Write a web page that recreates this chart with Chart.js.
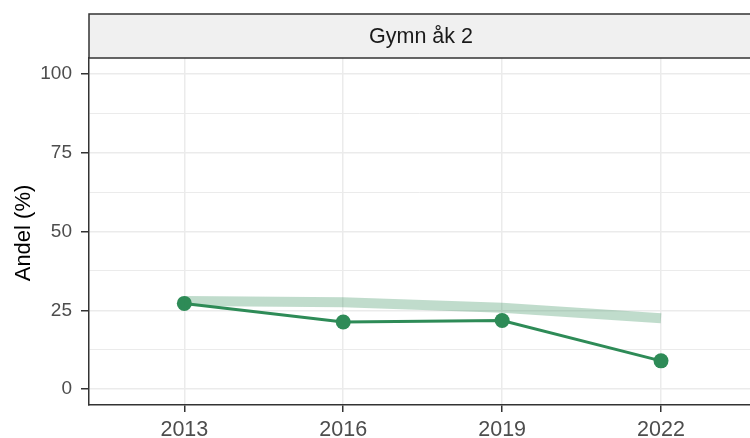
<!DOCTYPE html>
<html>
<head>
<meta charset="utf-8">
<script src="https://cdn.jsdelivr.net/npm/chart.js@4"></script>
<style>
  html, body { margin: 0; padding: 0; background: #fff; overflow: hidden; }
  #wrap { width: 750px; height: 438px; }
</style>
</head>
<body>
<div id="wrap"><canvas id="chart" width="750" height="438"></canvas></div>
<script>
// Data
const years = ['2013', '2016', '2019', '2022'];
const andel = [27.2, 21.3, 21.8, 9.0];
const trend = [28.0, 27.6, 25.8, 22.5];
const yTicks = [0, 25, 50, 75, 100];
const panelTitle = 'Gymn åk 2';
const yTitle = 'Andel (%)';

const green = 'rgb(46,139,87)';
const band = 'rgba(46,139,87,0.3)';
const fontFam = '"Liberation Sans", Arial, sans-serif';

// Facet-remsa och y-titel
const stripPlugin = {
    id: 'strip',
    afterDraw(chart) {
        const ctx = chart.ctx;
        const a = chart.chartArea;
        ctx.save();
        ctx.fillStyle = '#f0f0f0';
        ctx.fillRect(a.left, 14, 760 - a.left, a.top - 14);
        ctx.strokeStyle = '#333';
        ctx.lineWidth = 1.5;
        ctx.strokeRect(a.left, 14, 760 - a.left, a.top - 14);
        ctx.fillStyle = '#1a1a1a';
        ctx.font = '21.5px ' + fontFam;
        ctx.textAlign = 'center';
        ctx.textBaseline = 'middle';
        ctx.fillText(panelTitle, 421, 37);
        // y-axeltitel
        ctx.translate(24, 233);
        ctx.rotate(-Math.PI / 2);
        ctx.fillStyle = '#000';
        ctx.font = '22px ' + fontFam;
        ctx.fillText(yTitle, 0, 0);
        ctx.restore();
    }
};

const ctx = document.getElementById('chart').getContext('2d');
new Chart(ctx, {
    type: 'line',
    data: {
        datasets: [{
            data: trend.map((v, i) => ({ x: i, y: v })),
            borderColor: band,
            borderWidth: 10,
            borderCapStyle: 'butt',
            pointRadius: 0,
            tension: 0
        }, {
            data: andel.map((v, i) => ({ x: i, y: v })),
            borderColor: green,
            backgroundColor: green,
            borderWidth: 3,
            pointRadius: 7.5,
            pointBorderWidth: 0,
            tension: 0
        }]
    },
    options: {
        responsive: false,
        animation: false,
        layout: { autoPadding: false, padding: { top: 58, right: 0, left: 0, bottom: 0 } },
        plugins: {
            legend: { display: false },
            tooltip: { enabled: false }
        },
        scales: {
            x: {
                type: 'linear',
                min: -0.6,
                max: 3.56,
                afterBuildTicks: s => { s.ticks = years.map((y, i) => ({ value: i })); },
                afterFit: s => {
                    s.height = 33;
                    s.paddingLeft = 0;
                    s.paddingRight = 0;
                },
                ticks: {
                    callback: (v) => years[v],
                    color: '#4d4d4d',
                    font: { family: fontFam, size: 21.5 },
                    padding: 5,
                    maxRotation: 0
                },
                grid: {
                    color: '#ebebeb',
                    lineWidth: 1.5,
                    tickColor: '#333',
                    tickLength: 7
                },
                border: { display: true, color: '#333', width: 1.5 }
            },
            y: {
                min: -5,
                max: 105,
                afterBuildTicks: s => {
                    const t = [];
                    for (let v = 0; v <= 100; v += 12.5) t.push({ value: v });
                    s.ticks = t;
                },
                afterFit: s => {
                    s.width = 89;
                    s.paddingTop = 0;
                    s.paddingBottom = 0;
                },
                ticks: {
                    callback: (v) => yTicks.includes(v) ? String(v) : '',
                    color: '#4d4d4d',
                    font: { family: fontFam, size: 19 },
                    padding: 9
                },
                grid: {
                    color: '#ebebeb',
                    lineWidth: c => (c.tick && yTicks.includes(c.tick.value)) ? 1.5 : 1,
                    tickColor: c => (c.tick && yTicks.includes(c.tick.value)) ? '#333' : 'rgba(0,0,0,0)',
                    tickLength: 8
                },
                border: { display: true, color: '#333', width: 1.5 }
            }
        }
    },
    plugins: [stripPlugin]
});
</script>
</body>
</html>
